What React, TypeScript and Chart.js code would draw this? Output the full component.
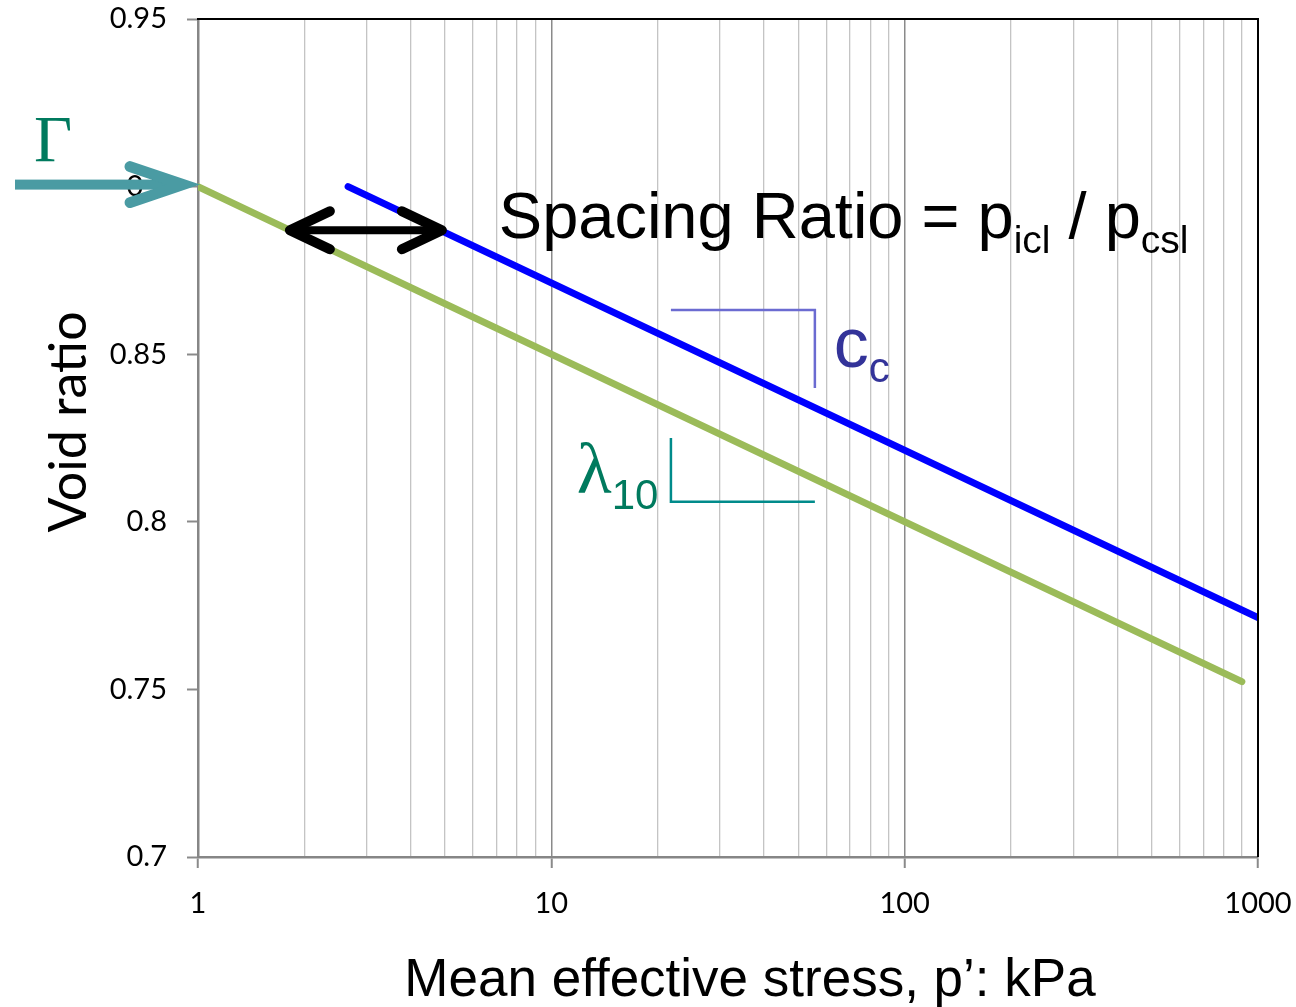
import React, { useEffect, useRef } from 'react';
import { Chart, registerables } from 'chart.js';

Chart.register(...registerables);

// ---- Data ----
const cslStress = [1, 900];
const cslVoid = [0.9, 0.7523];
const iclStress = [2.66, 1000];
const iclVoid = [0.9, 0.7714];

const xTickValues = [1, 2, 3, 4, 5, 6, 7, 8, 9, 10, 20, 30, 40, 50, 60, 70, 80, 90, 100, 200, 300, 400, 500, 600, 700, 800, 900, 1000];
const xMajorValues = [1, 10, 100, 1000];
const xMajorLabels = ['1', '10', '100', '1000'];
const yTickValues = [0.7, 0.75, 0.8, 0.85, 0.9, 0.95];
const yTickLabels = ['0.7', '0.75', '0.8', '0.85', '0.9', '0.95'];

// annotation anchors in data units
const gammaVoid = 0.9;
const spacingArrowStress = [1.82, 4.9];
const spacingArrowVoid = 0.887;
const spacingLabelAt = [7.1, 0.8847];
const ccStress = [21.8, 55.7];
const ccVoid = [0.8632, 0.8399];
const ccLabelAt = [63.0, 0.8462];
const lambdaStress = [21.8, 55.7];
const lambdaVoid = [0.825, 0.806];
const lambdaLabelAt = [11.8, 0.8086];

const SANS = "'Liberation Sans', Arial, Helvetica, sans-serif";
const SERIF = "'Liberation Serif', 'Times New Roman', serif";
const LATO = "Lato, 'Open Sans', sans-serif";

type Part = { text: string; font: string; dy: number };

function drawParts(ctx: CanvasRenderingContext2D, parts: Part[], x: number, y: number, color: string) {
  let cx = x;
  ctx.fillStyle = color;
  ctx.textAlign = 'left';
  ctx.textBaseline = 'alphabetic';
  for (const p of parts) {
    ctx.font = p.font;
    ctx.fillText(p.text, cx, y + p.dy);
    cx += ctx.measureText(p.text).width;
  }
}

const annotationPlugin = {
  id: 'soilAnnotations',
  afterDraw(chart: any) {
    const { ctx, chartArea: ca } = chart;
    const xs = chart.scales.x;
    const ys = chart.scales.y;
    const px = (v: number) => xs.getPixelForValue(v);
    const py = (v: number) => ys.getPixelForValue(v);
    ctx.save();

    // top & right frame (black)
    ctx.strokeStyle = '#000000';
    ctx.lineWidth = 2;
    ctx.lineCap = 'butt';
    ctx.beginPath();
    ctx.moveTo(ca.left - 1, ca.top);
    ctx.lineTo(ca.right, ca.top);
    ctx.lineTo(ca.right, ca.bottom);
    ctx.stroke();

    // Gamma arrow
    const gy = py(gammaVoid) - 2;
    const tipX = ca.left - 11;
    ctx.fillStyle = '#4a9ba3';
    ctx.fillRect(15, gy - 5, tipX - 15 - 6, 10);
    ctx.strokeStyle = '#4a9ba3';
    ctx.lineWidth = 11;
    ctx.lineCap = 'round';
    ctx.beginPath();
    ctx.moveTo(tipX - 57, gy - 18);
    ctx.lineTo(tipX - 4, gy);
    ctx.lineTo(tipX - 57, gy + 18);
    ctx.stroke();
    ctx.fillStyle = '#007a5e';
    ctx.font = `66px ${SERIF}`;
    ctx.textAlign = 'left';
    ctx.textBaseline = 'alphabetic';
    ctx.fillText('\u0393', 34, gy - 24);

    // Spacing double arrow
    const ay = py(spacingArrowVoid);
    const ax0 = px(spacingArrowStress[0]);
    const ax1 = px(spacingArrowStress[1]);
    ctx.strokeStyle = '#000000';
    ctx.lineCap = 'round';
    ctx.lineJoin = 'round';
    ctx.lineWidth = 8;
    ctx.beginPath();
    ctx.moveTo(ax0 + 4, ay);
    ctx.lineTo(ax1 - 4, ay);
    ctx.stroke();
    ctx.lineWidth = 10;
    ctx.beginPath();
    ctx.moveTo(ax0 + 40, ay - 19);
    ctx.lineTo(ax0, ay);
    ctx.lineTo(ax0 + 40, ay + 19);
    ctx.moveTo(ax1 - 40, ay - 19);
    ctx.lineTo(ax1, ay);
    ctx.lineTo(ax1 - 40, ay + 19);
    ctx.stroke();

    // Spacing Ratio text
    drawParts(
      ctx,
      [
        { text: 'Spacing Ratio = p', font: `65px ${SANS}`, dy: 0 },
        { text: 'icl', font: `39px ${SANS}`, dy: 15 },
        { text: ' / p', font: `65px ${SANS}`, dy: 0 },
        { text: 'csl', font: `39px ${SANS}`, dy: 15 },
      ],
      px(spacingLabelAt[0]),
      py(spacingLabelAt[1]),
      '#000000'
    );

    // Cc triangle
    ctx.lineCap = 'butt';
    ctx.lineJoin = 'miter';
    ctx.strokeStyle = '#6b6bd1';
    ctx.lineWidth = 2.5;
    ctx.beginPath();
    ctx.moveTo(px(ccStress[0]), py(ccVoid[0]));
    ctx.lineTo(px(ccStress[1]), py(ccVoid[0]));
    ctx.lineTo(px(ccStress[1]), py(ccVoid[1]));
    ctx.stroke();
    drawParts(
      ctx,
      [
        { text: 'c', font: `70px ${SANS}`, dy: 0 },
        { text: 'c', font: `42px ${SANS}`, dy: 15 },
      ],
      px(ccLabelAt[0]),
      py(ccLabelAt[1]),
      '#333399'
    );

    // lambda triangle
    ctx.strokeStyle = '#008b8b';
    ctx.lineWidth = 2.5;
    ctx.beginPath();
    ctx.moveTo(px(lambdaStress[0]), py(lambdaVoid[0]));
    ctx.lineTo(px(lambdaStress[0]), py(lambdaVoid[1]));
    ctx.lineTo(px(lambdaStress[1]), py(lambdaVoid[1]));
    ctx.stroke();
    drawParts(
      ctx,
      [
        { text: '\u03bb', font: `72px ${SERIF}`, dy: 0 },
        { text: '10', font: `42px ${SANS}`, dy: 16 },
      ],
      px(lambdaLabelAt[0]),
      py(lambdaLabelAt[1]),
      '#007a5e'
    );

    // Axis titles
    ctx.fillStyle = '#000000';
    ctx.font = `53px ${SANS}`;
    ctx.textAlign = 'center';
    ctx.textBaseline = 'alphabetic';
    ctx.fillText('Mean effective stress, p\u2019: kPa', 750, 996);

    ctx.save();
    ctx.translate(86, 422);
    ctx.rotate(-Math.PI / 2);
    ctx.font = `52px ${LATO}`;
    ctx.textAlign = 'center';
    ctx.fillText('Void ratio', 0, 0);
    ctx.restore();

    ctx.restore();
  },
};

export default function App() {
  const canvasRef = useRef<HTMLCanvasElement | null>(null);

  useEffect(() => {
    const canvas = canvasRef.current;
    if (!canvas) return;
    const isMajor = (v: number) => xMajorValues.includes(v);
    const chart = new Chart(canvas, {
      type: 'line',
      data: {
        datasets: [
          {
            label: 'ICL',
            data: iclStress.map((x, i) => ({ x, y: iclVoid[i] })),
            borderColor: '#0000ff',
            borderWidth: 7,
            borderCapStyle: 'round',
            pointRadius: 0,
            fill: false,
            clip: 0,
          } as any,
          {
            label: 'CSL',
            data: cslStress.map((x, i) => ({ x, y: cslVoid[i] })),
            borderColor: '#9bbb59',
            borderWidth: 7,
            borderCapStyle: 'round',
            pointRadius: 0,
            fill: false,
            clip: 0,
          } as any,
        ],
      },
      options: {
        responsive: false,
        animation: false,
        devicePixelRatio: 1,
        layout: { padding: { top: 19, right: 38, left: 0, bottom: 0 } },
        plugins: { legend: { display: false }, tooltip: { enabled: false }, title: { display: false } },
        scales: {
          x: {
            type: 'logarithmic',
            min: 1,
            max: 1000,
            afterBuildTicks: (scale: any) => {
              scale.ticks = xTickValues.map((v) => ({ value: v, major: isMajor(v) }));
            },
            afterFit: (scale: any) => {
              scale.height = 150;
              scale.paddingLeft = 0;
              scale.paddingRight = 0;
              scale.paddingTop = 0;
              scale.paddingBottom = 0;
            },
            ticks: {
              autoSkip: false,
              maxRotation: 0,
              minRotation: 0,
              color: '#000000',
              font: { family: LATO, size: 29 },
              padding: 18,
              callback: (value: any) => {
                const i = xMajorValues.indexOf(Number(value));
                return i >= 0 ? xMajorLabels[i] : '';
              },
            },
            grid: {
              display: true,
              drawOnChartArea: true,
              drawTicks: true,
              tickLength: 11,
              lineWidth: (c: any) => (c.tick && isMajor(c.tick.value) ? 1.5 : 1.3),
              color: (c: any) => (c.tick && isMajor(c.tick.value) ? '#8a8a8a' : '#c4c4c4'),
              tickColor: (c: any) => (c.tick && isMajor(c.tick.value) ? '#8a8a8a' : 'rgba(0,0,0,0)'),
              tickWidth: 2,
            },
            border: { display: true, color: '#868686', width: 2.5 },
          },
          y: {
            type: 'linear',
            min: 0.7,
            max: 0.95,
            afterBuildTicks: (scale: any) => {
              scale.ticks = yTickValues.map((v) => ({ value: v }));
            },
            afterFit: (scale: any) => {
              scale.width = 198;
              scale.paddingLeft = 0;
              scale.paddingRight = 0;
              scale.paddingTop = 0;
              scale.paddingBottom = 0;
            },
            ticks: {
              color: '#000000',
              font: { family: LATO, size: 29 },
              padding: 20,
              callback: (value: any, index: number) => yTickLabels[index],
            },
            grid: {
              display: true,
              drawOnChartArea: false,
              drawTicks: true,
              tickLength: 11,
              tickColor: '#8a8a8a',
              tickWidth: 2,
            },
            border: { display: true, color: '#868686', width: 2.5 },
          },
        },
      } as any,
      plugins: [annotationPlugin],
    });
    return () => chart.destroy();
  }, []);

  return (
    <div style={{ position: 'fixed', left: 0, top: 0, width: 1296, height: 1007, background: '#ffffff' }}>
      <canvas ref={canvasRef} width={1296} height={1007} style={{ width: 1296, height: 1007, display: 'block' }} />
    </div>
  );
}
